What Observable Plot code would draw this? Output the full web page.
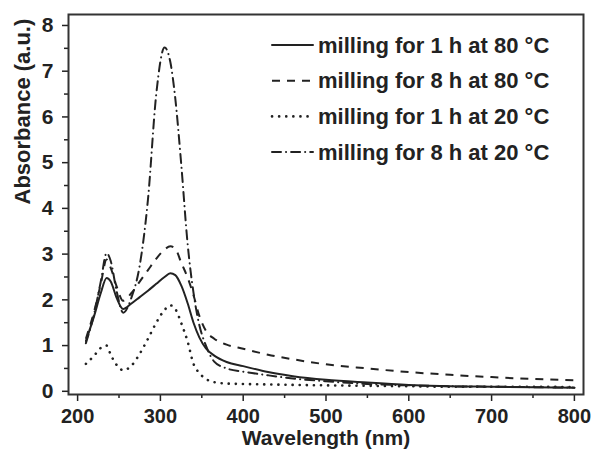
<!DOCTYPE html>
<html>
<head>
<meta charset="utf-8">
<script src="https://cdn.jsdelivr.net/npm/d3@7"></script>
<script src="https://cdn.jsdelivr.net/npm/@observablehq/plot@0.6"></script>
<style>
  html, body { margin: 0; padding: 0; background: #fff; }
  #chart svg { display: block; }
</style>
</head>
<body>
<div id="chart"></div>
<script>
// Wavelength grid (nm)
const wavelength = [210, 220, 228, 235, 240, 247, 255, 265, 275, 285, 295, 305, 312, 318, 325, 333, 340, 347, 355, 365, 380, 400, 430, 460, 500, 550, 600, 650, 700, 750, 800];

// Absorbance (a.u.) for each sample
const mill1h80 = [1.10, 1.65, 2.15, 2.48, 2.40, 2.05, 1.80, 1.92, 2.06, 2.20, 2.35, 2.50, 2.58, 2.54, 2.32, 1.92, 1.50, 1.18, 0.94, 0.78, 0.64, 0.55, 0.42, 0.33, 0.25, 0.19, 0.14, 0.11, 0.10, 0.09, 0.08];
const mill8h80 = [1.15, 1.75, 2.35, 2.88, 2.70, 2.30, 1.98, 2.15, 2.40, 2.65, 2.90, 3.10, 3.17, 3.12, 2.82, 2.48, 2.10, 1.65, 1.32, 1.15, 1.02, 0.93, 0.80, 0.70, 0.59, 0.50, 0.42, 0.36, 0.31, 0.27, 0.24];
const mill1h20 = [0.60, 0.78, 0.95, 1.00, 0.80, 0.58, 0.46, 0.56, 0.82, 1.15, 1.50, 1.78, 1.88, 1.80, 1.50, 1.08, 0.60, 0.40, 0.27, 0.20, 0.17, 0.16, 0.15, 0.14, 0.13, 0.12, 0.11, 0.10, 0.10, 0.10, 0.09];
const mill8h20 = [1.05, 1.70, 2.40, 3.02, 2.85, 2.20, 1.72, 2.05, 2.75, 4.20, 6.50, 7.52, 7.20, 6.40, 5.00, 3.20, 2.15, 1.45, 1.00, 0.65, 0.50, 0.43, 0.35, 0.28, 0.22, 0.16, 0.13, 0.11, 0.10, 0.09, 0.08];

const seriesNames = ["milling for 1 h at 80 °C", "milling for 8 h at 80 °C", "milling for 1 h at 20 °C", "milling for 8 h at 20 °C"];
const seriesValues = [mill1h80, mill8h80, mill1h20, mill8h20];
const seriesDash = [null, "8,7", "0.1,7", "9,5,0.1,5"];
const seriesLinecap = ["round", "butt", "round", "round"];

const xMajorTicks = [200, 300, 400, 500, 600, 700, 800];
const xMinorTicks = [250, 350, 450, 550, 650, 750];
const yMajorTicks = [0, 1, 2, 3, 4, 5, 6, 7, 8];
const yMinorTicks = [0.5, 1.5, 2.5, 3.5, 4.5, 5.5, 6.5, 7.5];

const ink = "#222";
const font = "'Liberation Sans', Arial, Helvetica, sans-serif";

const tables = seriesValues.map((vals, i) =>
  wavelength.map((w, j) => ({wavelength: w, absorbance: vals[j], series: seriesNames[i]}))
);

const lineMarks = tables.map((t, i) =>
  Plot.line(t, {
    x: "wavelength", y: "absorbance",
    stroke: ink, strokeWidth: i === 2 ? 2.6 : 2,
    strokeDasharray: seriesDash[i] || undefined,
    strokeLinecap: seriesLinecap[i],
    curve: "monotone-x"
  })
);

const chart = Plot.plot({
  width: 593,
  height: 454,
  marginLeft: 68,
  marginTop: 14,
  marginRight: 10,
  marginBottom: 60,
  style: {fontFamily: font, fontWeight: "bold", color: ink, background: "#fff", overflow: "visible"},
  x: {domain: [189, 811]},
  y: {domain: [-0.07, 8.24]},
  marks: [
    Plot.axisX({ticks: xMajorTicks, tickSize: 7, tickFormat: () => "", label: null, strokeWidth: 1.5}),
    Plot.axisX({ticks: xMinorTicks, tickSize: 4, tickFormat: () => "", label: null, strokeWidth: 1.5}),
    Plot.text(xMajorTicks, {x: d => d, frameAnchor: "bottom", dy: 28, fontSize: 20, fontWeight: "bold", fill: ink, text: d => String(d)}),
    Plot.axisY({ticks: yMajorTicks, tickSize: 6, tickPadding: 9, fontSize: 21, label: null, strokeWidth: 1.5}),
    Plot.axisY({ticks: yMinorTicks, tickSize: 4, tickFormat: () => "", label: null, strokeWidth: 1.5}),
    ...lineMarks,
    Plot.frame({stroke: "#333", strokeWidth: 2}),
    Plot.text(["Wavelength (nm)"], {frameAnchor: "bottom", dy: 50.5, fontSize: 21, fontWeight: "bold", fill: ink}),
    Plot.text(["Absorbance (a.u.)"], {frameAnchor: "left", dx: -46, rotate: -90, fontSize: 22, fontWeight: "bold", fill: ink})
  ]
});

// Legend inside the plot area (top right)
const svg = d3.select(chart);
const lg = svg.append("g").attr("class", "legend").attr("text-anchor", "start");
seriesNames.forEach((name, i) => {
  const y = 45 + i * 35.7;
  const ln = lg.append("line")
    .attr("x1", 272).attr("x2", 313).attr("y1", y).attr("y2", y)
    .attr("stroke", ink).attr("stroke-width", i === 2 ? 2.6 : 2)
    .attr("stroke-linecap", seriesLinecap[i]);
  if (seriesDash[i]) ln.attr("stroke-dasharray", seriesDash[i]);
  lg.append("text")
    .attr("x", 318).attr("y", y).attr("dy", "0.35em")
    .attr("text-anchor", "start")
    .attr("font-family", font).attr("font-weight", "bold")
    .attr("font-size", 22).attr("fill", ink)
    .text(name);
});

document.getElementById("chart").appendChild(chart);
</script>
</body>
</html>
